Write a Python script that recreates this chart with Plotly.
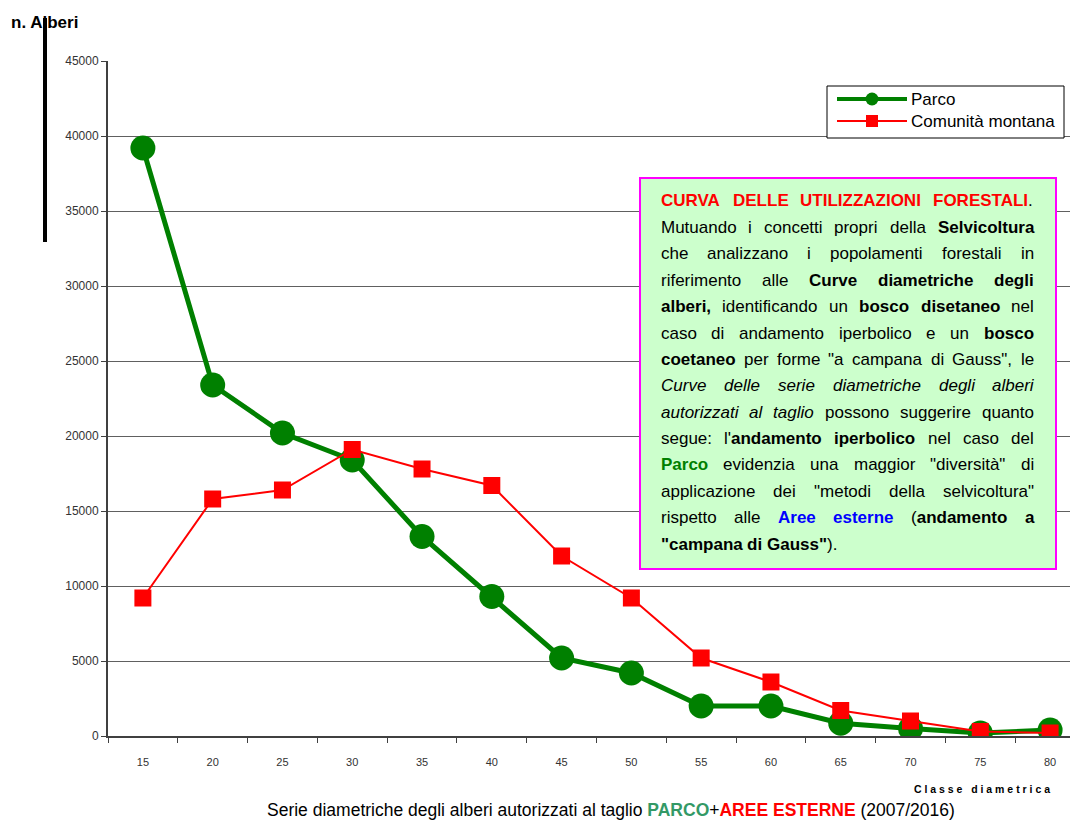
import plotly.graph_objects as go

# Classe diametrica
classi = ["15", "20", "25", "30", "35", "40", "45", "50", "55", "60", "65", "70", "75", "80"]

# n. alberi autorizzati al taglio
parco = [39200, 23400, 20200, 18400, 13300, 9300, 5200, 4200, 2000, 2000, 850, 500, 200, 400]
comunita = [9200, 15800, 16400, 19100, 17800, 16700, 12000, 9200, 5200, 3600, 1700, 1000, 300, 200]

y_ticks = [0, 5000, 10000, 15000, 20000, 25000, 30000, 35000, 40000, 45000]

# text of the green box: (chunk, style); n normal, b bold, i italic, rb/gb/bb coloured bold
box_lines = [
    [("CURVA DELLE UTILIZZAZIONI FORESTALI", "rb"), (".", "n")],
    [("Mutuando i concetti propri della ", "n"), ("Selvicoltura", "b")],
    [("che analizzano i popolamenti forestali in", "n")],
    [("riferimento alle ", "n"), ("Curve diametriche degli", "b")],
    [("alberi,", "b"), (" identificando un ", "n"), ("bosco disetaneo", "b"), (" nel", "n")],
    [("caso di andamento iperbolico e un ", "n"), ("bosco", "b")],
    [("coetaneo", "b"), (" per forme \"a campana di Gauss\", le", "n")],
    [("Curve delle serie diametriche degli alberi", "i")],
    [("autorizzati al taglio", "i"), (" possono suggerire quanto", "n")],
    [("segue: l'", "n"), ("andamento iperbolico", "b"), (" nel caso del", "n")],
    [("Parco", "gb"), (" evidenzia una maggior \"diversità\" di", "n")],
    [("applicazione dei \"metodi della selvicoltura\"", "n")],
    [("rispetto alle ", "n"), ("Aree esterne", "bb"), (" (", "n"), ("andamento a", "b")],
    [("\"campana di Gauss\"", "b"), (").", "n")],
]

FONT = "Liberation Sans, Arial, sans-serif"
BOX_SIZE = 17
GREEN = "#008000"
RED = "#ff0000"

# Arial / Liberation Sans advance widths (1/1000 em), used to justify the box text
W_REG = dict(zip(" !\"'(),./:", [278, 278, 355, 191, 333, 333, 278, 278, 278, 278]))
W_REG.update(dict(zip("ABCDEFGHIJKLMNOPQRSTUVWXYZ",
                      [667, 667, 722, 722, 667, 611, 778, 722, 278, 500, 667, 556, 833,
                       722, 778, 667, 778, 722, 667, 611, 722, 667, 944, 667, 667, 611])))
W_REG.update(dict(zip("abcdefghijklmnopqrstuvwxyzà",
                      [556, 556, 500, 556, 556, 278, 556, 556, 222, 222, 500, 222, 833,
                       556, 556, 556, 556, 333, 500, 278, 556, 500, 722, 500, 500, 500, 556])))
W_BOLD = dict(zip(" !\"'(),./:", [278, 333, 474, 238, 333, 333, 278, 278, 278, 333]))
W_BOLD.update(dict(zip("ABCDEFGHIJKLMNOPQRSTUVWXYZ",
                       [722, 722, 722, 722, 667, 611, 778, 722, 278, 556, 722, 611, 833,
                        722, 778, 667, 778, 722, 667, 611, 722, 667, 944, 667, 667, 611])))
W_BOLD.update(dict(zip("abcdefghijklmnopqrstuvwxyzà",
                       [556, 611, 556, 611, 556, 333, 611, 611, 278, 278, 556, 278, 889,
                        611, 611, 611, 611, 389, 556, 333, 611, 556, 778, 556, 556, 500, 556])))

STYLE_HTML = {
    "n": ("", ""),
    "b": ("<b>", "</b>"),
    "i": ("<i>", "</i>"),
    "rb": ("<span style='color:#ff0000'><b>", "</b></span>"),
    "gb": ("<span style='color:#008000'><b>", "</b></span>"),
    "bb": ("<span style='color:#0000ff'><b>", "</b></span>"),
}


def seg_width(text, style):
    tbl = W_BOLD if style in ("b", "rb", "gb", "bb") else W_REG
    return sum(tbl.get(ch, 556) for ch in text) / 1000 * BOX_SIZE


def split_words(line):
    words, cur = [], []
    for text, style in line:
        parts = text.split(" ")
        for k, p in enumerate(parts):
            if k > 0:
                if cur:
                    words.append(cur)
                cur = []
            if p:
                cur.append((p, style))
    if cur:
        words.append(cur)
    return words


def px_x(xp):
    return (xp - 108) / 970


def px_y(yp):
    return (736 - yp) / 675


fig = go.Figure()

fig.add_trace(go.Scatter(
    x=classi, y=parco, name="Parco", mode="lines+markers",
    line=dict(color=GREEN, width=5),
    marker=dict(symbol="circle", size=25, color=GREEN),
))
fig.add_trace(go.Scatter(
    x=classi, y=comunita, name="Comunità montana", mode="lines+markers",
    line=dict(color=RED, width=2),
    marker=dict(symbol="square", size=17, color=RED),
))

# legend drawn by hand, to get the long line samples of the original
fig.add_shape(type="rect", xref="paper", yref="paper",
              x0=px_x(827), x1=px_x(1064), y0=px_y(138), y1=px_y(86),
              fillcolor="#ffffff", line=dict(color="#000000", width=1), layer="above")
leg_rows = [("Parco", GREEN, 4, "circle", 99), ("Comunità montana", RED, 2, "square", 121)]
for name, col, lw, sym, yrow in leg_rows:
    fig.add_shape(type="line", xref="paper", yref="paper",
                  x0=px_x(837), x1=px_x(907), y0=px_y(yrow), y1=px_y(yrow),
                  line=dict(color=col, width=lw), layer="above")
    half = 6.5 if sym == "circle" else 6
    fig.add_shape(type="circle" if sym == "circle" else "rect", xref="paper", yref="paper",
                  x0=px_x(872 - half), x1=px_x(872 + half),
                  y0=px_y(yrow + half), y1=px_y(yrow - half),
                  fillcolor=col, line=dict(color=col, width=0), layer="above")
    fig.add_annotation(xref="paper", yref="paper", x=px_x(911), y=px_y(yrow),
                       text=name, showarrow=False, xanchor="left", yanchor="middle",
                       borderpad=0, borderwidth=0,
                       font=dict(family=FONT, size=17, color="#000000"))

# text box
fig.add_shape(type="rect", xref="paper", yref="paper",
              x0=px_x(640), x1=px_x(1056), y0=px_y(569), y1=px_y(178),
              fillcolor="#ccffcc", line=dict(color="#ff00ff", width=2), layer="above")

BOX_LEFT, BOX_RIGHT = 660.5, 1034
for i, line in enumerate(box_lines):
    words = split_words(line)
    widths = [sum(seg_width(t, s) for t, s in w) for w in words]
    if i == len(box_lines) - 1 or len(words) == 1:
        gap = seg_width(" ", "n")
    else:
        gap = (BOX_RIGHT - BOX_LEFT - sum(widths)) / (len(words) - 1)
    x = BOX_LEFT
    ypx = 201 + i * 26.4
    for w, wd in zip(words, widths):
        html = "".join(STYLE_HTML[s][0] + t + STYLE_HTML[s][1] for t, s in w)
        fig.add_annotation(xref="paper", yref="paper", x=px_x(x), y=px_y(ypx),
                           text=html, showarrow=False, xanchor="left", yanchor="middle",
                           borderpad=0, borderwidth=0,
                           font=dict(family=FONT, size=BOX_SIZE, color="#000000"))
        x += wd + gap

# odd vertical bar next to the axis title
fig.add_shape(type="line", xref="paper", yref="paper",
              x0=px_x(45), x1=px_x(45), y0=px_y(18), y1=px_y(242),
              line=dict(color="#000000", width=4))

fig.add_annotation(xref="paper", yref="paper", x=px_x(9), y=px_y(22),
                   text="<b>n. Alberi</b>", showarrow=False, xanchor="left", yanchor="middle",
                   font=dict(family=FONT, size=17, color="#000000"))

fig.add_annotation(xref="paper", yref="paper", x=px_x(1052), y=px_y(789),
                   text="<b>C l a s s e   d i a m e t r i c a</b>", showarrow=False,
                   xanchor="right", yanchor="middle",
                   font=dict(family=FONT, size=10.5, color="#000000"))

fig.add_annotation(xref="paper", yref="paper", x=px_x(611), y=px_y(810),
                   text="Serie diametriche degli alberi autorizzati al taglio "
                        "<span style='color:#339966'><b>PARCO</b></span>+"
                        "<span style='color:#ff0000'><b>AREE ESTERNE</b></span> (2007/2016)",
                   showarrow=False, xanchor="center", yanchor="middle",
                   font=dict(family=FONT, size=17.5, color="#000000"))

fig.update_xaxes(
    type="category", range=[-0.5, 13.4],
    showline=True, linecolor="#404040", linewidth=2,
    ticks="outside", tickson="boundaries", ticklen=5, tickcolor="#404040",
    ticklabelstandoff=15,
    showgrid=False, zeroline=False,
    tickfont=dict(family=FONT, size=11, color="#333333"),
)
fig.update_yaxes(
    range=[0, 45000], tickvals=y_ticks, tickformat="d",
    showline=True, linecolor="#404040", linewidth=2,
    ticks="outside", ticklen=5, tickcolor="#404040",
    showgrid=True, gridcolor="#606060", gridwidth=1, zeroline=False,
    tickfont=dict(family=FONT, size=12, color="#333333"),
)

# the page puts the figure 8px in from the top-left corner, so it is 8px smaller here
fig.update_layout(
    width=1070, height=813,
    margin=dict(l=100, r=0, t=53, b=85),
    plot_bgcolor="#ffffff", paper_bgcolor="#ffffff",
    font=dict(family=FONT, color="#000000"),
    showlegend=False,
)

fig.write_html("out.html")
